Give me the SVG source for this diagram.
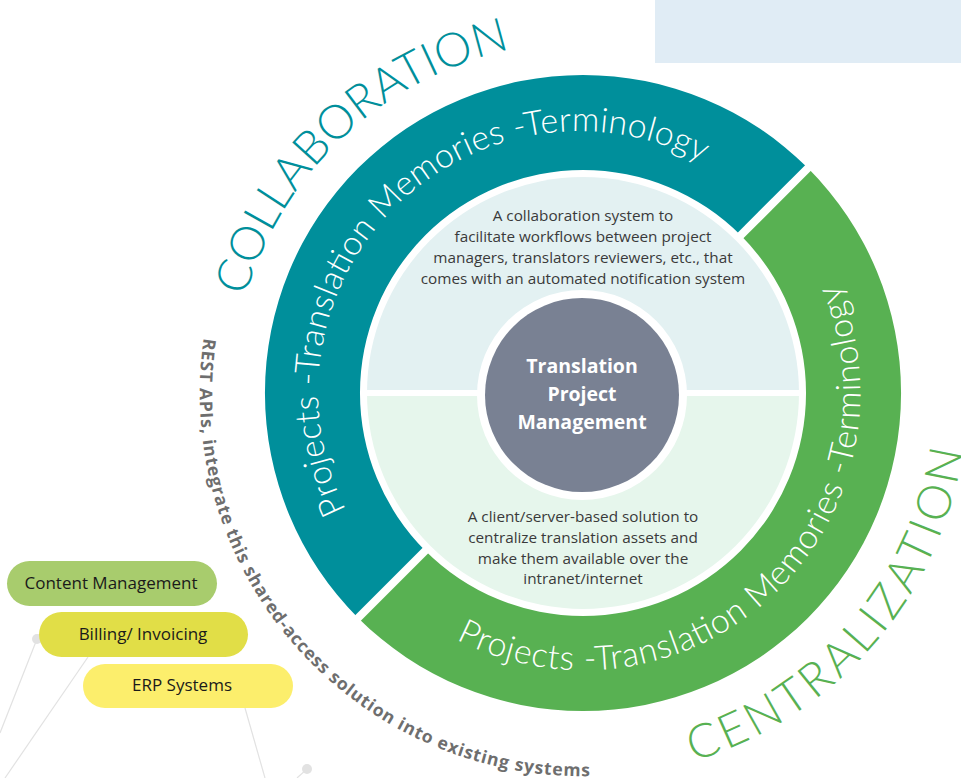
<svg xmlns="http://www.w3.org/2000/svg" xmlns:xlink="http://www.w3.org/1999/xlink" width="961" height="778" viewBox="0 0 961 778">
<style>
.ring{font-family:Lato,"Open Sans",sans-serif;font-weight:300;font-size:34px;fill:#ffffff}
.big{font-family:Lato,"Open Sans",sans-serif;font-weight:300;font-size:47px}
.body{font-family:"Open Sans","Noto Sans",sans-serif;font-size:15.3px;fill:#3a3a3a;text-anchor:middle}
.title{font-family:"Open Sans","Noto Sans",sans-serif;font-weight:bold;font-size:19.5px;fill:#ffffff;text-anchor:middle}
.pill{font-family:"Open Sans","Noto Sans",sans-serif;font-size:17px;fill:#1a1a1a;text-anchor:middle}
.rest{font-family:"Open Sans","Noto Sans",sans-serif;font-weight:bold;font-size:17.5px;fill:#6e6e6e}
.faint{stroke:#e2e2e2;stroke-width:1.2;fill:none}
.dot{fill:#e2e2e2}
</style>
<defs>
<path id="pTeal" d="M392.5,575.0 A259,259 0 0 1 766.1,209.9"/>
<path id="pGreen" d="M383.8,585.4 A277,277 0 0 0 788.9,207.6"/>
<path id="pColl" d="M323.4,635.1 A355,355 0 0 1 842.6,150.9"/>
<path id="pCent" d="M335.5,687.9 A385,385 0 0 0 840.6,106.9"/>
<path id="pRest" d="M324.7,110.2 A383,383 0 0 0 831.2,684.7"/>
</defs>
<rect id="top-panel" x="655" y="0" width="306" height="63" fill="#e0ecf5"/>
<g id="connectors">
<line class="faint" x1="37" y1="639" x2="0" y2="733"/>
<line class="faint" x1="88" y1="657" x2="5" y2="778"/>
<line class="faint" x1="245" y1="708" x2="265" y2="778"/>
<line class="faint" x1="307" y1="769" x2="297" y2="778"/>
<circle class="dot" cx="37" cy="639" r="5"/>
<circle class="dot" cx="307" cy="769" r="5"/>
</g>
<g id="collaboration-ring">
<path d="M358.1,617.9 A318,318 0 0 1 807.9,168.1 L740.7,235.3 A223,223 0 0 0 425.3,550.7 Z" fill="#008f9b"/>
<text class="ring"><textPath xlink:href="#pTeal" href="#pTeal" startOffset="50%" text-anchor="middle" textLength="660" lengthAdjust="spacing">Projects -Translation Memories -Terminology</textPath></text>
</g>
<g id="centralization-ring">
<path d="M807.9,168.1 A318,318 0 0 1 358.1,617.9 L425.3,550.7 A223,223 0 0 0 740.7,235.3 Z" fill="#58b152"/>
<text class="ring"><textPath xlink:href="#pGreen" href="#pGreen" startOffset="50%" text-anchor="middle" textLength="680" lengthAdjust="spacing">Projects -Translation Memories -Terminology</textPath></text>
</g>
<g id="ring-gaps" stroke="#ffffff" stroke-width="8">
<line x1="431" y1="545" x2="352.5" y2="623.5"/>
<line x1="735" y1="241" x2="813.5" y2="162.5"/>
</g>
<g id="collaboration-panel">
<path d="M367,393 A216,216 0 0 1 799,393 Z" fill="#e3f1f2"/>
<text class="body" x="583" y="221">A collaboration system to</text>
<text class="body" x="583" y="242">facilitate workflows between project</text>
<text class="body" x="583" y="263">managers, translators reviewers, etc., that</text>
<text class="body" x="583" y="284">comes with an automated notification system</text>
</g>
<g id="centralization-panel">
<path d="M799,393 A216,216 0 0 1 367,393 Z" fill="#e6f6ec"/>
<text class="body" x="583" y="522">A client/server-based solution to</text>
<text class="body" x="583" y="543">centralize translation assets and</text>
<text class="body" x="583" y="564">make them available over the</text>
<text class="body" x="583" y="584">intranet/internet</text>
</g>
<line x1="365" y1="393" x2="801" y2="393" stroke="#ffffff" stroke-width="6"/>
<g id="center">
<circle cx="582" cy="395" r="105" fill="#ffffff"/>
<circle cx="582" cy="395" r="97" fill="#798193"/>
<text class="title" x="582" y="373">Translation</text>
<text class="title" x="582" y="401">Project</text>
<text class="title" x="582" y="429">Management</text>
</g>
<g id="collaboration-label">
<text class="big" fill="#008f9b"><textPath xlink:href="#pColl" href="#pColl" startOffset="50%" text-anchor="middle" textLength="380" lengthAdjust="spacing">COLLABORATION</textPath></text>
</g>
<g id="centralization-label">
<text class="big" fill="#58b152"><textPath xlink:href="#pCent" href="#pCent" startOffset="50%" text-anchor="middle" textLength="434" lengthAdjust="spacing">CENTRALIZATION</textPath></text>
</g>
<g id="rest-label">
<text class="rest"><textPath xlink:href="#pRest" href="#pRest" startOffset="50%" text-anchor="middle" textLength="664" lengthAdjust="spacing">REST APIs, integrate this shared-access solution into existing systems</textPath></text>
</g>
<g id="content-management">
<rect x="7" y="561" width="210" height="45" rx="22.5" fill="#a8cc6d"/>
<text class="pill" x="111" y="589">Content Management</text>
</g>
<g id="billing">
<rect x="39" y="612" width="209" height="45" rx="22.5" fill="#e1de47"/>
<text class="pill" x="143" y="640">Billing/ Invoicing</text>
</g>
<g id="erp">
<rect x="83" y="664" width="210" height="44" rx="22" fill="#fcee6c"/>
<text class="pill" x="182" y="691">ERP Systems</text>
</g>
</svg>
